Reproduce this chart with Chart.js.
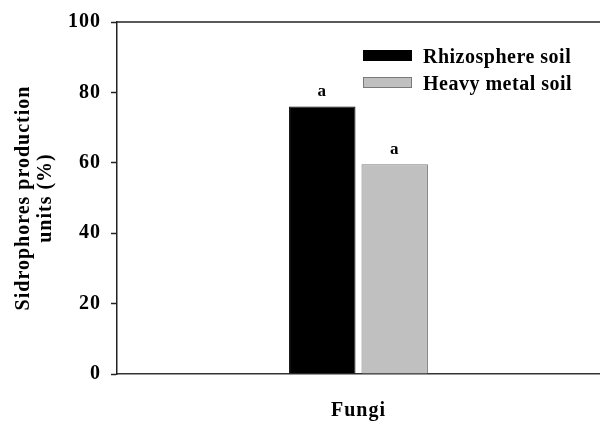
<!DOCTYPE html>
<html>
<head>
<meta charset="utf-8">
<script src="https://cdn.jsdelivr.net/npm/chart.js@4.4.0/dist/chart.umd.min.js"></script>
<style>
  html, body { margin: 0; background: #fff; }
  #wrap { width: 600px; height: 421px; position: relative; }
</style>
</head>
<body>
<div id="wrap"><canvas id="chart"></canvas></div>
<script>
// data
const categories = ['Fungi'];
const seriesNames = ['Rhizosphere soil', 'Heavy metal soil'];
const rhizosphere = [76];
const heavyMetal = [59.6];
const rhizosphereLetters = ['a'];
const heavyMetalLetters = ['a'];
const yTicks = [0, 20, 40, 60, 80, 100];
const yTitle = ['Sidrophores production', 'units (%)'];

const serif = '"Liberation Serif", "Times New Roman", serif';
const letters = [rhizosphereLetters, heavyMetalLetters];

// the original's type is a bit wider than Liberation Serif, so space it out
function spacing(chart) {
  if ('letterSpacing' in chart.ctx) chart.ctx.letterSpacing = '1px';
}

// top frame line, letters over bars, legend inside the plot
const extras = {
  id: 'extras',
  beforeUpdate: spacing,
  beforeLayout: spacing,
  beforeDraw: spacing,
  afterDraw(chart) {
    const { ctx, chartArea } = chart;
    ctx.save();
    ctx.strokeStyle = '#222';
    ctx.lineWidth = 1.5;
    ctx.beginPath();
    ctx.moveTo(chartArea.left, chartArea.top);
    ctx.lineTo(chartArea.right, chartArea.top);
    ctx.stroke();

    ctx.fillStyle = '#000';
    ctx.font = 'bold 17px ' + serif;
    ctx.textAlign = 'center';
    ctx.textBaseline = 'middle';
    chart.data.datasets.forEach((ds, i) => {
      chart.getDatasetMeta(i).data.forEach((bar, j) => {
        ctx.fillText(letters[i][j], bar.x, bar.y - 15);
      });
    });

    ctx.font = 'bold 20px ' + serif;
    ctx.textAlign = 'left';
    ctx.textBaseline = 'alphabetic';
    if ('letterSpacing' in ctx) ctx.letterSpacing = '0.5px';
    chart.data.datasets.forEach((ds, i) => {
      const bx = chartArea.left + 246;
      const by = chartArea.top + 28 + i * 27;
      ctx.fillStyle = ds.backgroundColor;
      ctx.fillRect(bx, by, 49, 11);
      ctx.strokeStyle = ds.borderColor;
      ctx.lineWidth = 1;
      ctx.strokeRect(bx + 0.5, by + 0.5, 48, 10);
      ctx.fillStyle = '#000';
      ctx.fillText(ds.label, bx + 60, by + 12.5);
    });
    ctx.restore();
  }
};

new Chart(document.getElementById('chart'), {
  type: 'bar',
  data: {
    labels: categories,
    datasets: [
      {
        label: seriesNames[0],
        data: rhizosphere,
        backgroundColor: '#000000',
        borderColor: '#000000',
        borderWidth: 1
      },
      {
        label: seriesNames[1],
        data: heavyMetal,
        backgroundColor: '#c0c0c0',
        borderColor: '#7a7a7a',
        borderWidth: 1
      }
    ]
  },
  options: {
    responsive: true,
    maintainAspectRatio: false,
    animation: false,
    categoryPercentage: 0.3,
    barPercentage: 0.917,
    layout: { padding: { top: 22, right: 0, bottom: 0, left: 0 } },
    plugins: {
      legend: { display: false },
      tooltip: { enabled: false }
    },
    scales: {
      x: {
        grid: { display: false, drawTicks: false },
        border: { display: true, color: '#333', width: 1.5 },
        ticks: {
          color: '#000',
          padding: 25,
          font: { family: serif, size: 20, weight: 'bold' }
        },
        afterFit(scale) { scale.height = 47; }
      },
      y: {
        min: yTicks[0],
        max: yTicks[yTicks.length - 1],
        grid: {
          drawOnChartArea: false,
          drawTicks: true,
          tickLength: 6,
          color: '#222',
          tickWidth: 1.5
        },
        border: { display: true, color: '#222', width: 1.5 },
        ticks: {
          stepSize: yTicks[1] - yTicks[0],
          color: '#000',
          padding: 10,
          font: { family: serif, size: 20, weight: 'bold' }
        },
        title: {
          display: true,
          text: yTitle,
          color: '#000',
          padding: { top: 13, bottom: 0 },
          font: { family: serif, size: 20, weight: 'bold', lineHeight: 1.1 }
        },
        afterFit(scale) { scale.width = 117; }
      }
    }
  },
  plugins: [extras]
});
</script>
</body>
</html>
